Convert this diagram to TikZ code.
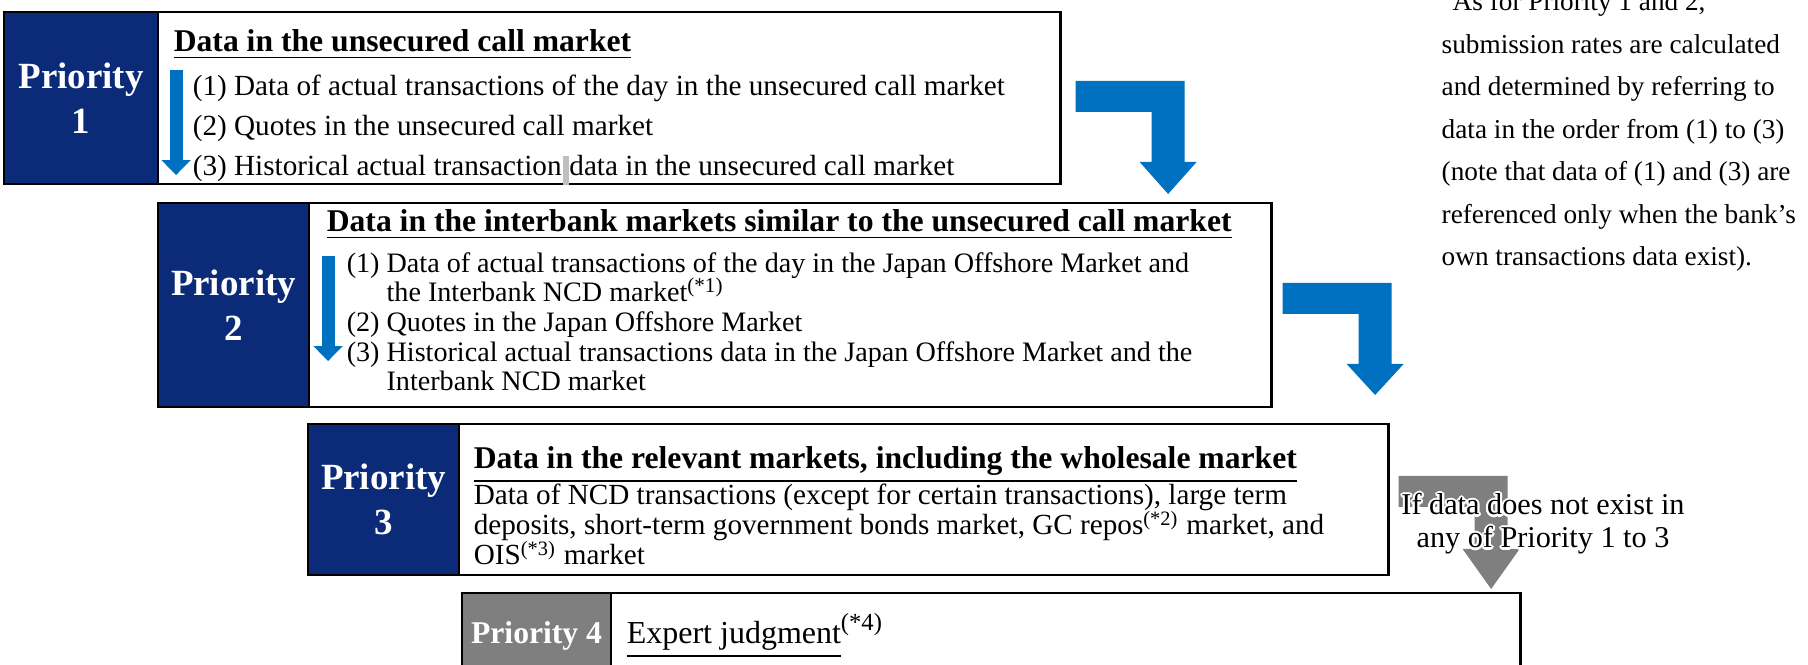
\documentclass[tikz,border=0pt]{standalone}
\usepackage{fontspec}
\setmainfont{Liberation Serif}
\usepackage[copies]{contour}
\usepackage{tikz}
\usetikzlibrary{arrows.meta,positioning,calc}
\definecolor{prnavy}{RGB}{11,43,120}
\definecolor{flowblue}{RGB}{0,112,192}
\definecolor{stepgray}{RGB}{127,127,127}
\definecolor{markgray}{RGB}{191,191,191}
\contourlength{0.6pt}

\tikzset{
  prbox/.style={draw=black,line width=0.7pt,fill=prnavy,text=white,align=center,anchor=north west,
    font=\fontsize{10.5}{12.8}\selectfont\bfseries,inner sep=0pt,outer sep=0pt},
  databox/.style={draw=black,line width=0.7pt,fill=white,anchor=north west,inner sep=0pt,outer sep=0pt},
  ttl/.style={font=\fontsize{9}{10}\selectfont\bfseries,anchor=base west,inner sep=0pt},
  body/.style={font=\fontsize{8}{9}\selectfont,anchor=base west,inner sep=0pt},
  note/.style={font=\fontsize{7.75}{9}\selectfont,anchor=base west,inner sep=0pt},
  downarr/.style={flowblue,line width=0.13cm,-{Triangle[length=0pt 1.15,width=0pt 2.2]}}
}

\begin{document}
\begin{tikzpicture}[x=0.01cm,y=-0.01cm]
    \useasboundingbox (0,0) rectangle (1808,665);
    \clip (0,0) rectangle (1808,665);
    \fill[white] (0,0) rectangle (1808,665);
    % priority 1
    \node[prbox,minimum width=1.54cm,minimum height=1.72cm] (p1) at (4,12) {Priority\\1};
    \node[databox,minimum width=9.02cm,minimum height=1.72cm] (d1) at (p1.north east) {};
    \node[ttl] (t1) at ($(d1.north west)+(15,40)$) {\underline{Data in the unsecured call market}};
    \foreach \yy/\txt [count=\i] in {84/{(1) Data of actual transactions of the day in the unsecured call market},
        124/{(2) Quotes in the unsecured call market},
        164/{(3) Historical actual transaction\hspace{0.04em}\textcolor{markgray}{\rule[-0.3em]{0.21em}{1.0em}}\hspace{0.02em}data in the unsecured call market}}
        \node[body,font=\fontsize{8.3}{9}\selectfont] (a\i) at ($(d1.north west)+(34,\yy)$) {\txt};
    \draw[downarr] ($(d1.north west)+(18,58)$) -- ($(d1.north west)+(18,163)$);
    % priority 2
    \node[prbox,minimum width=1.51cm,minimum height=2.04cm] (p2) at (158,203) {Priority\\2};
    \node[databox,minimum width=9.62cm,minimum height=2.04cm] (d2) at (p2.north east) {};
    \node[ttl] (t2) at ($(d2.north west)+(17,29)$) {\underline{Data in the interbank markets similar to the unsecured call market}};
    \foreach \yy/\txt [count=\i] in {70/{(1) Data of actual transactions of the day in the Japan Offshore Market and},
        99/{\hphantom{(1)\ }the Interbank NCD market\textsuperscript{(*1)}},
        129/{(2) Quotes in the Japan Offshore Market},
        159/{(3) Historical actual transactions data in the Japan Offshore Market and the},
        188/{\hphantom{(3)\ }Interbank NCD market}}
        \node[body] (b\i) at ($(d2.north west)+(37,\yy)$) {\txt};
    \draw[downarr] ($(d2.north west)+(19,53)$) -- ($(d2.north west)+(19,158)$);
    % priority 3
    \node[prbox,minimum width=1.51cm,minimum height=1.51cm] (p3) at (308,424) {Priority\\3};
    \node[databox,minimum width=9.29cm,minimum height=1.51cm] (d3) at (p3.north east) {};
    \node[ttl] (t3) at ($(d3.north west)+(14,45)$) {\underline{Data in the relevant markets, including the wholesale market}};
    \foreach \yy/\txt [count=\i] in {81/{Data of NCD transactions (except for certain transactions), large term},
        111/{deposits, short-term government bonds market, GC repos\textsuperscript{(*2)} market, and},
        141/{OIS\textsuperscript{(*3)} market}}
        \node[body,font=\fontsize{8.3}{9}\selectfont] (c\i) at ($(d3.north west)+(14,\yy)$) {\txt};
    % priority 4
    \node[prbox,fill=stepgray,font=\fontsize{9}{10}\selectfont\bfseries,minimum width=1.49cm,minimum height=0.86cm] (p4) at (462,593) {Priority 4};
    \node[databox,minimum width=9.09cm,minimum height=0.86cm] (d4) at (p4.north east) {};
    \node[ttl,font=\fontsize{9.1}{10}\selectfont] (t4) at ($(d4.north west)+(15,51)$)
        {\underline{Expert judgment}\raisebox{0.42em}{\fontsize{7}{8}\selectfont(*4)}};
    % bent arrows between the steps
    \coordinate (k1) at ($(d1.north east)+(15,69)$);
    \coordinate (k2) at ($(d2.north east)+(11,80)$);
    \coordinate (k3) at ($(d3.north east)+(10,52)$);
    \foreach \c/\col/\sh/\hl in {k1/flowblue/81/32, k2/flowblue/81/31, k3/stepgray/73/40}
        \fill[\col] (\c) -- ++(109,0) -- ++(0,\sh) -- ++(12,0) -- ++(-28.5,\hl) -- ++(-28.5,-\hl)
            -- ++(12,0) -- ++(0,{31-\sh}) -- ++(-76,0) -- cycle;
    \node[font=\fontsize{8.6}{9.4}\selectfont,inner sep=0pt,anchor=base] (x1) at (1543,515) {\contour{white}{If data does not exist in}};
    \node[font=\fontsize{8.6}{9.4}\selectfont,inner sep=0pt,anchor=base] (x2) at (1543,548) {\contour{white}{any of Priority 1 to 3}};
    % note on the right
    \node[note] (n0) at (1452,11) {As for Priority 1 and 2,};
    \foreach \yy/\txt [count=\i] in {53.5/{submission rates are calculated},
        96/{and determined by referring to},
        138.5/{data in the order from (1) to (3)},
        181/{(note that data of (1) and (3) are},
        223.5/{referenced only when the bank’s},
        266/{own transactions data exist).}}
        \node[note] (n\i) at (1441,\yy) {\txt};
\end{tikzpicture}
\end{document}
